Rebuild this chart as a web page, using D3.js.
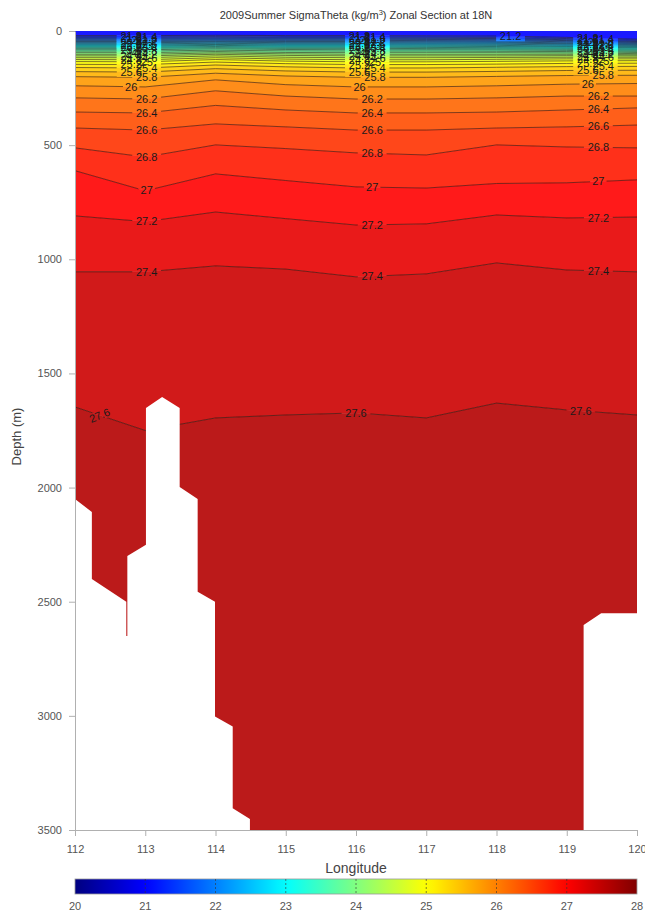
<!DOCTYPE html>
<html>
<head>
<meta charset="utf-8">
<script src="https://cdn.jsdelivr.net/npm/d3@7"></script>
<style>
  body { margin: 0; background: #fff; }
  svg { font-family: Arial, "Liberation Sans", sans-serif; }
</style>
</head>
<body>
<div id="chart"></div>
<script>
// station longitudes where isopycnal depths were read
const stationLons = [112, 113, 114, 115, 116, 117, 118, 119, 120];

// sigma-theta contour levels (kg/m3)
const isoLevels = [21.2, 21.4, 21.6, 21.8, 22.0, 22.2, 22.4, 22.6, 22.8, 23.0,
    23.2, 23.4, 23.6, 23.8, 24.0, 24.2, 24.4, 24.6, 24.8, 25.0,
    25.2, 25.4, 25.6, 25.8, 26.0, 26.2, 26.4, 26.6, 26.8, 27.0,
    27.2, 27.4, 27.6];

// depth (m) of each level at each station
const isoDepths = [
    [20, 20, 19, 20, 20, 21, 22, 28, 36],
    [26, 26, 25, 26, 26, 27, 28, 33, 41],
    [31, 31, 30, 31, 31, 32, 33, 38, 46],
    [36, 36, 35, 36, 36, 37, 38, 42, 50],
    [41, 41, 40, 41, 41, 42, 43, 47, 54],
    [46, 46, 45, 46, 46, 47, 48, 52, 58],
    [51, 51, 49, 51, 51, 52, 53, 56, 62],
    [56, 56, 54, 56, 56, 57, 58, 61, 66],
    [61, 61, 59, 61, 61, 62, 63, 66, 70],
    [66, 66, 63, 66, 66, 67, 68, 70, 74],
    [71, 71, 68, 71, 71, 72, 73, 75, 79],
    [76, 76, 73, 76, 76, 77, 78, 80, 84],
    [82, 82, 78, 81, 82, 82, 83, 85, 89],
    [88, 88, 84, 87, 88, 88, 89, 90, 94],
    [95, 95, 90, 94, 95, 95, 95, 96, 99],
    [102, 102, 96, 100, 102, 102, 102, 102, 104],
    [109, 109, 102, 107, 109, 109, 109, 108, 109],
    [117, 117, 109, 115, 117, 117, 116, 115, 115],
    [125, 126, 117, 123, 126, 126, 124, 122, 122],
    [134, 135, 125, 132, 135, 135, 133, 131, 130],
    [146, 147, 136, 143, 147, 147, 145, 142, 141],
    [160, 162, 149, 157, 162, 162, 159, 156, 155],
    [178, 180, 165, 175, 180, 180, 177, 173, 172],
    [200, 203, 185, 197, 203, 203, 199, 195, 194],
    [240, 245, 214, 235, 245, 245, 240, 233, 230],
    [293, 298, 262, 285, 298, 298, 293, 285, 285],
    [355, 359, 326, 346, 359, 359, 355, 346, 337],
    [425, 434, 407, 420, 434, 434, 425, 420, 412],
    [512, 552, 499, 515, 534, 543, 499, 508, 512],
    [612, 700, 626, 655, 683, 688, 668, 665, 652],
    [810, 835, 793, 822, 850, 845, 806, 819, 815],
    [1055, 1055, 1029, 1043, 1077, 1064, 1016, 1047, 1055],
    [1647, 1750, 1695, 1682, 1673, 1695, 1630, 1660, 1682]
];

// value used for the surface band above the first contour
const surfaceLevel = 21.0;

// seabed outline (white area below)
const seabedLon = [112.0, 112.24, 112.24, 112.73, 112.73, 112.745, 112.745, 113.01, 113.01,
    113.24, 113.49, 113.49, 113.746, 113.746, 113.993, 113.993, 114.245, 114.245, 114.49,
    114.49, 119.24, 119.24, 119.49, 120.0];
const seabedDepth = [2050, 2107, 2400, 2500, 2650, 2650, 2300, 2250, 1651,
    1603, 1651, 1997, 2050, 2456, 2500, 3003, 3047, 3405, 3452,
    3500, 3500, 2602, 2550, 2550];

const depthTicks = [0, 500, 1000, 1500, 2000, 2500, 3000, 3500];
const lonTicks = [112, 113, 114, 115, 116, 117, 118, 119, 120];
const colorTicks = [20, 21, 22, 23, 24, 25, 26, 27, 28];

const width = 645, height = 911;
const margin = {top: 31, right: 8, bottom: 81, left: 75};
const plotW = width - margin.left - margin.right,
    plotH = height - margin.top - margin.bottom;

const x = d3.scaleLinear().domain([112, 120]).range([margin.left, margin.left + plotW]);
const y = d3.scaleLinear().domain([0, 3500]).range([margin.top, margin.top + plotH]);

// jet colormap
const jet = d3.scaleLinear()
    .domain([20, 21, 23, 25, 27, 28])
    .range(['#000080', '#0000ff', '#00ffff', '#ffff00', '#ff0000', '#800000'])
    .clamp(true);
const bandColor = v => d3.interpolateRgb(jet(v), '#ffffff')(0.1);

const svg = d3.select('#chart').append('svg')
    .attr('width', width)
    .attr('height', height);

const defs = svg.append('defs');
defs.append('clipPath').attr('id', 'plotClip')
    .append('rect')
    .attr('x', margin.left).attr('y', margin.top)
    .attr('width', plotW).attr('height', plotH);

const plot = svg.append('g').attr('clip-path', 'url(#plotClip)');

// filled bands between consecutive isopycnals
const bands = [];
bands.push({level: surfaceLevel, top: stationLons.map(() => 0), bottom: isoDepths[0]});
for (let i = 0; i < isoLevels.length; i++) {
    bands.push({
        level: isoLevels[i],
        top: isoDepths[i],
        bottom: i + 1 < isoLevels.length ? isoDepths[i + 1] : stationLons.map(() => 3500)
    });
}

const area = d3.area()
    .x((d, i) => x(stationLons[i]))
    .y0((d, i) => y(d[0]))
    .y1((d, i) => y(d[1]));

plot.append('g').selectAll('path')
    .data(bands)
    .enter().append('path')
    .attr('d', b => area(b.top.map((t, i) => [t, b.bottom[i]])))
    .attr('fill', b => bandColor(b.level))
    .attr('stroke', b => bandColor(b.level))
    .attr('stroke-width', 0.5);

// label placement
const labelColsA = [112.8, 116.05, 119.3];
const labelColsB = [113.02, 116.27, 119.52];
const labelColsMid = [113.02, 116.23, 119.45];
const labelCols276 = [112.35, 116.0, 119.2];

function depthAt(row, lon) {
    let i = d3.bisectRight(stationLons, lon) - 1;
    i = Math.max(0, Math.min(stationLons.length - 2, i));
    const t = (lon - stationLons[i]) / (stationLons[i + 1] - stationLons[i]);
    return {d: row[i] + t * (row[i + 1] - row[i]), i: i};
}

const labels = [];
isoLevels.forEach((lev, k) => {
    let cols;
    if (lev >= 27.6) cols = labelCols276;
    else if (lev >= 26.2) cols = labelColsMid;
    else cols = k % 2 === 0 ? labelColsA : labelColsB;
    if (k === 0) cols = cols.concat([118.2]);
    cols.forEach(lon => {
        const p = depthAt(isoDepths[k], lon);
        let ang = 0;
        if (lev >= 27.6 && lon < 113) ang = -22;
        labels.push({text: String(lev), lx: x(lon), ly: y(p.d), ang: ang});
    });
});

// mask so contour lines break under labels
const mask = defs.append('mask').attr('id', 'labelMask')
    .attr('maskUnits', 'userSpaceOnUse')
    .attr('x', 0).attr('y', 0).attr('width', width).attr('height', height);
mask.append('rect').attr('x', 0).attr('y', 0)
    .attr('width', width).attr('height', height).attr('fill', '#fff');
mask.selectAll('rect.hole')
    .data(labels)
    .enter().append('rect')
    .attr('class', 'hole')
    .attr('x', d => -d.text.length * 3.1 - 2)
    .attr('y', -5)
    .attr('width', d => d.text.length * 6.2 + 4)
    .attr('height', 10)
    .attr('fill', '#000')
    .attr('transform', d => 'translate(' + d.lx + ',' + d.ly + ') rotate(' + d.ang + ')');

const line = d3.line()
    .x((d, i) => x(stationLons[i]))
    .y(d => y(d));

plot.append('g')
    .attr('mask', 'url(#labelMask)')
    .selectAll('path')
    .data(isoDepths)
    .enter().append('path')
    .attr('d', line)
    .attr('fill', 'none')
    .attr('stroke', '#2a1a10')
    .attr('stroke-opacity', 0.75)
    .attr('stroke-width', 0.8);

plot.append('g').selectAll('text')
    .data(labels)
    .enter().append('text')
    .attr('transform', d => 'translate(' + d.lx + ',' + d.ly + ') rotate(' + d.ang + ')')
    .attr('text-anchor', 'middle')
    .attr('dy', '0.36em')
    .style('font-size', '11px')
    .style('fill', '#1a1a1a')
    .text(d => d.text);

// seabed
const seabedPts = seabedLon.map((lon, i) => [x(lon), y(seabedDepth[i])]);
seabedPts.push([x(120), y(3500)], [x(112), y(3500)]);
plot.append('path')
    .attr('d', 'M' + seabedPts.join('L') + 'Z')
    .attr('fill', '#fff');

// axes
const yAxis = svg.append('g')
    .attr('transform', 'translate(' + margin.left + ',0)')
    .call(d3.axisLeft(y).tickValues(depthTicks).tickFormat(d3.format('d'))
        .tickSize(6).tickSizeOuter(0).tickPadding(7));
const xAxis = svg.append('g')
    .attr('transform', 'translate(0,' + (margin.top + plotH) + ')')
    .call(d3.axisBottom(x).tickValues(lonTicks).tickSize(6).tickSizeOuter(0).tickPadding(9));
[yAxis, xAxis].forEach(a => {
    a.select('.domain').attr('stroke', '#b0b0b0');
    a.selectAll('.tick line').attr('stroke', '#b0b0b0');
    a.selectAll('.tick text').style('font-size', '11px').style('fill', '#555')
        .style('font-family', 'Arial, "Liberation Sans", sans-serif');
});

// titles
const title = svg.append('text')
    .attr('x', margin.left + plotW / 2)
    .attr('y', 19)
    .attr('text-anchor', 'middle')
    .style('font-size', '11px')
    .style('fill', '#333');
title.append('tspan').text('2009Summer SigmaTheta (kg/m');
title.append('tspan').attr('dy', -4).style('font-size', '7.5px').text('3');
title.append('tspan').attr('dy', 4).text(') Zonal Section at 18N');

svg.append('text')
    .attr('transform', 'translate(21,' + (margin.top + plotH / 2 + 6) + ') rotate(-90)')
    .attr('text-anchor', 'middle')
    .style('font-size', '13px')
    .style('fill', '#444')
    .text('Depth (m)');

svg.append('text')
    .attr('x', margin.left + plotW / 2)
    .attr('y', 873)
    .attr('text-anchor', 'middle')
    .style('font-size', '14px')
    .style('fill', '#444')
    .text('Longitude');

// colorbar
const cbY = 879, cbH = 15;
const cx = d3.scaleLinear().domain([20, 28]).range([margin.left, margin.left + plotW]);
const grad = defs.append('linearGradient').attr('id', 'jetGrad');
d3.range(0, 1.0001, 0.02).forEach(t => {
    grad.append('stop')
        .attr('offset', t * 100 + '%')
        .attr('stop-color', jet(20 + t * 8));
});
svg.append('rect')
    .attr('x', margin.left).attr('y', cbY)
    .attr('width', plotW).attr('height', cbH)
    .attr('fill', 'url(#jetGrad)')
    .attr('stroke', '#999')
    .attr('stroke-width', 0.8);
svg.append('g').selectAll('line')
    .data(colorTicks.slice(1, -1))
    .enter().append('line')
    .attr('x1', d => cx(d)).attr('x2', d => cx(d))
    .attr('y1', cbY).attr('y2', cbY + cbH)
    .attr('stroke', '#333')
    .attr('stroke-opacity', 0.6)
    .attr('stroke-dasharray', '2,2');
svg.append('g').selectAll('text')
    .data(colorTicks)
    .enter().append('text')
    .attr('x', d => cx(d))
    .attr('y', 910)
    .attr('text-anchor', 'middle')
    .style('font-size', '11px')
    .style('fill', '#555')
    .text(d => d);
</script>
</body>
</html>
